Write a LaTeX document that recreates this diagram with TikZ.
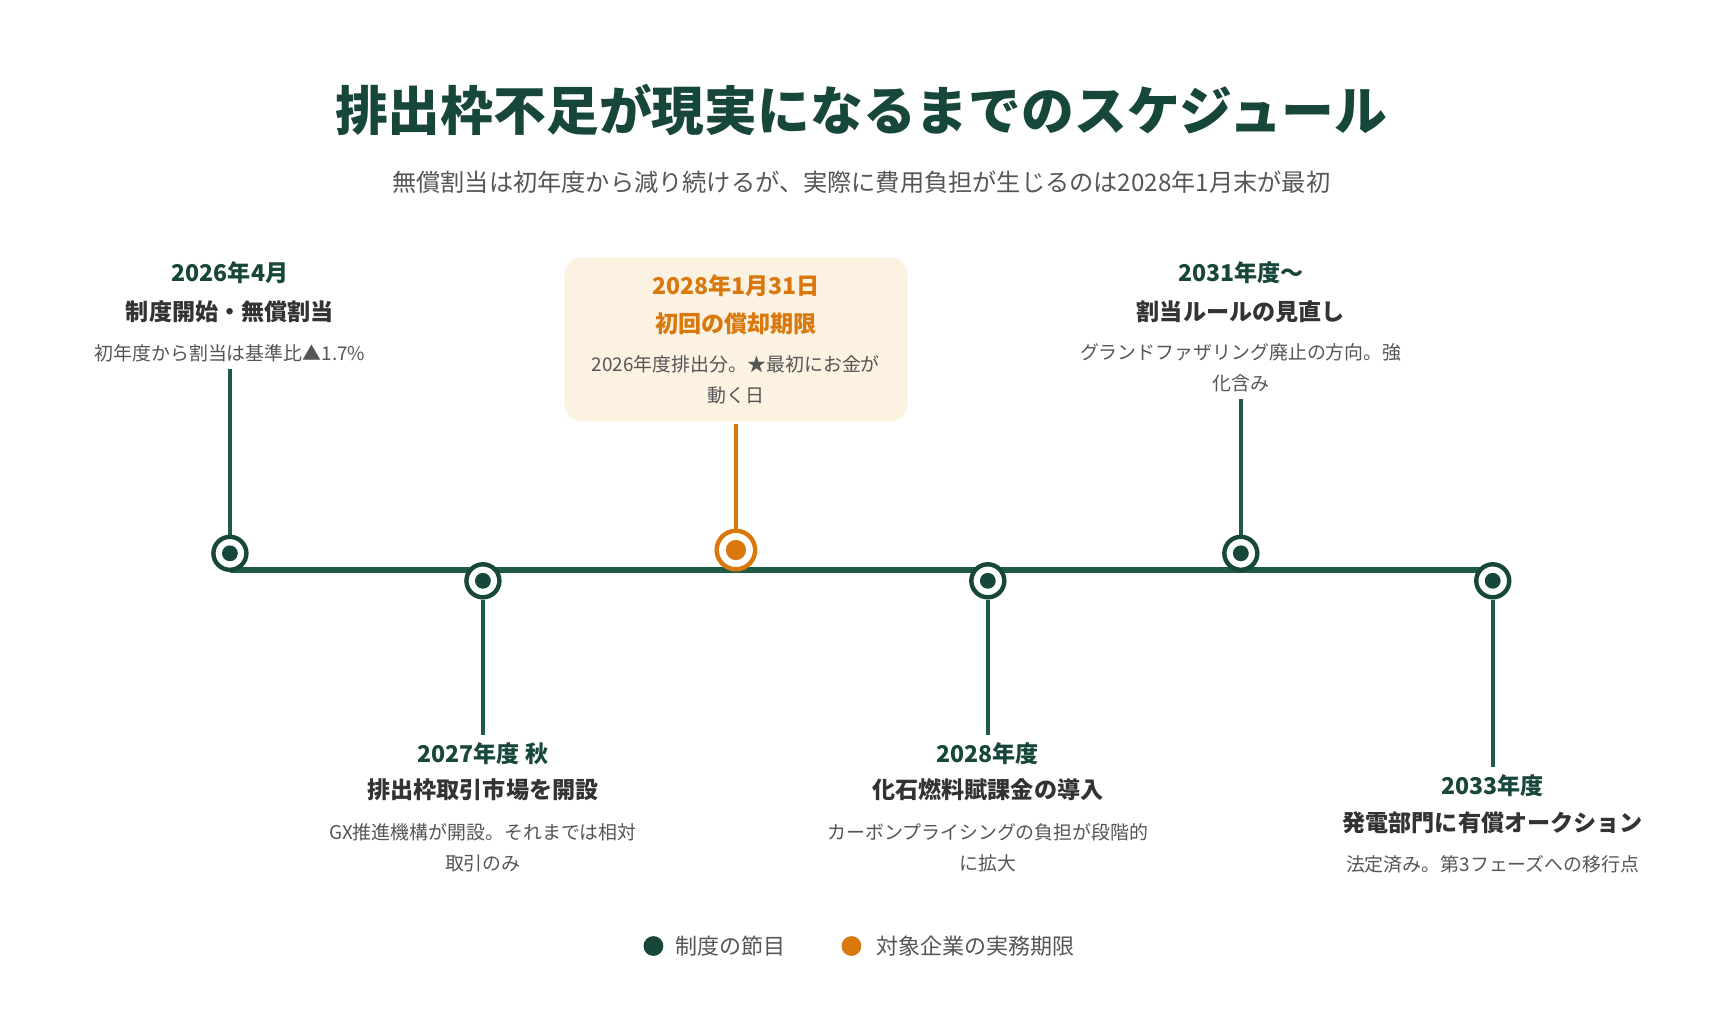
\documentclass[tikz,border=0pt]{standalone}
\usepackage{fontspec}
\setmainfont{Noto Sans CJK JP}
\begin{document}
\definecolor{dg}{HTML}{17463A}
\definecolor{lg}{HTML}{1F5A46}
\definecolor{og}{HTML}{D9780C}
\definecolor{gt}{HTML}{555555}
\definecolor{bx}{HTML}{FCF2E2}
\begin{tikzpicture}[x=0.5pt,y=-0.5pt,
  date/.style={font=\fontsize{10.5}{12}\selectfont\bfseries,text=dg},
  ttl/.style={font=\fontsize{10.5}{12}\selectfont\bfseries,text=black!80},
  desc/.style={font=\fontsize{8.6}{14}\selectfont,text=gt,align=center},
  stem/.style={draw=lg,line width=1.6pt},
  ev/.style={circle,draw=dg,line width=2pt,fill=white,minimum size=30*0.5pt,inner sep=0pt,
    path picture={\fill[dg] (path picture bounding box.center) circle (3.6pt);}},
  evo/.style={circle,draw=og,line width=2pt,fill=white,minimum size=35*0.5pt,inner sep=0pt,
    path picture={\fill[og] (path picture bounding box.center) circle (4.6pt);}}]
\useasboundingbox (0,0) rectangle (1563.6,923.6);
\node[font=\fontsize{24}{28}\selectfont\bfseries,text=dg] (title) at (783,100) {排出枠不足が現実になるまでのスケジュール};
\node[font=\fontsize{11}{13}\selectfont,text=gt] (sub) at (783,166) {無償割当は初年度から減り続けるが、実際に費用負担が生じるのは2028年1月末が最初};
\coordinate (L) at (209,518); \coordinate (R) at (1357,518);
\draw[lg,line width=2.6pt] (L) -- (R);
% box
\node[fill=bx,rounded corners=8pt,minimum width=312*0.5pt,minimum height=149*0.5pt] (box) at (669,308.5) {};
% events
\node[ev] (e1) at (209,503) {};
\node[ev] (e2) at (439,528) {};
\node[evo] (e3) at (669,500) {};
\node[ev] (e4) at (898,528) {};
\node[ev] (e5) at (1128,503) {};
\node[ev] (e6) at (1357,528) {};
% labels
\node[date] (d1) at (209,248) {2026年4月};
\node[ttl] (t1) at (209,283) {制度開始・無償割当};
\node[desc] (s1) at (209,321) {初年度から割当は基準比▲1.7\%};
\coordinate (c1) at (209,335);
\draw[stem] (c1) -- (e1);
\node[date,text=og] (d3) at (669,260) {2028年1月31日};
\node[ttl,text=og] (t3) at (669,294) {初回の償却期限};
\node[desc] (s3) at (669,345) {2026年度排出分。★最初にお金が\\動く日};
\coordinate (c3) at (669,385);
\draw[og,line width=2pt] (c3) -- (e3);
\node[date] (d5) at (1128,248) {2031年度〜};
\node[ttl] (t5) at (1128,283) {割当ルールの見直し};
\node[desc] (s5) at (1128,334) {グランドファザリング廃止の方向。強\\化含み};
\coordinate (c5) at (1128,363);
\draw[stem] (c5) -- (e5);
\coordinate (c2) at (439,668);
\draw[stem] (e2) -- (c2);
\node[date] (d2) at (439,685) {2027年度 秋};
\node[ttl] (t2) at (439,718) {排出枠取引市場を開設};
\node[desc] (s2) at (439,771) {GX推進機構が開設。それまでは相対\\取引のみ};
\coordinate (c4) at (898,668);
\draw[stem] (e4) -- (c4);
\node[date] (d4) at (898,685) {2028年度};
\node[ttl] (t4) at (898,718) {化石燃料賦課金の導入};
\node[desc] (s4) at (898,771) {カーボンプライシングの負担が段階的\\に拡大};
\coordinate (c6) at (1357,697);
\draw[stem] (e6) -- (c6);
\node[date] (d6) at (1357,714) {2033年度};
\node[ttl] (t6) at (1357,748) {発電部門に有償オークション};
\node[desc] (s6) at (1357,786) {法定済み。第3フェーズへの移行点};
% legend
\node[circle,fill=dg,minimum size=18*0.5pt,inner sep=0pt] (l1) at (594,860) {};
\node[anchor=west,font=\fontsize{10}{12}\selectfont,text=gt,inner sep=0pt] (lt1) at (614,860) {制度の節目};
\node[circle,fill=og,minimum size=18*0.5pt,inner sep=0pt] (l2) at (774,860) {};
\node[anchor=west,font=\fontsize{10}{12}\selectfont,text=gt,inner sep=0pt] (lt2) at (796,860) {対象企業の実務期限};
\end{tikzpicture}
\end{document}
